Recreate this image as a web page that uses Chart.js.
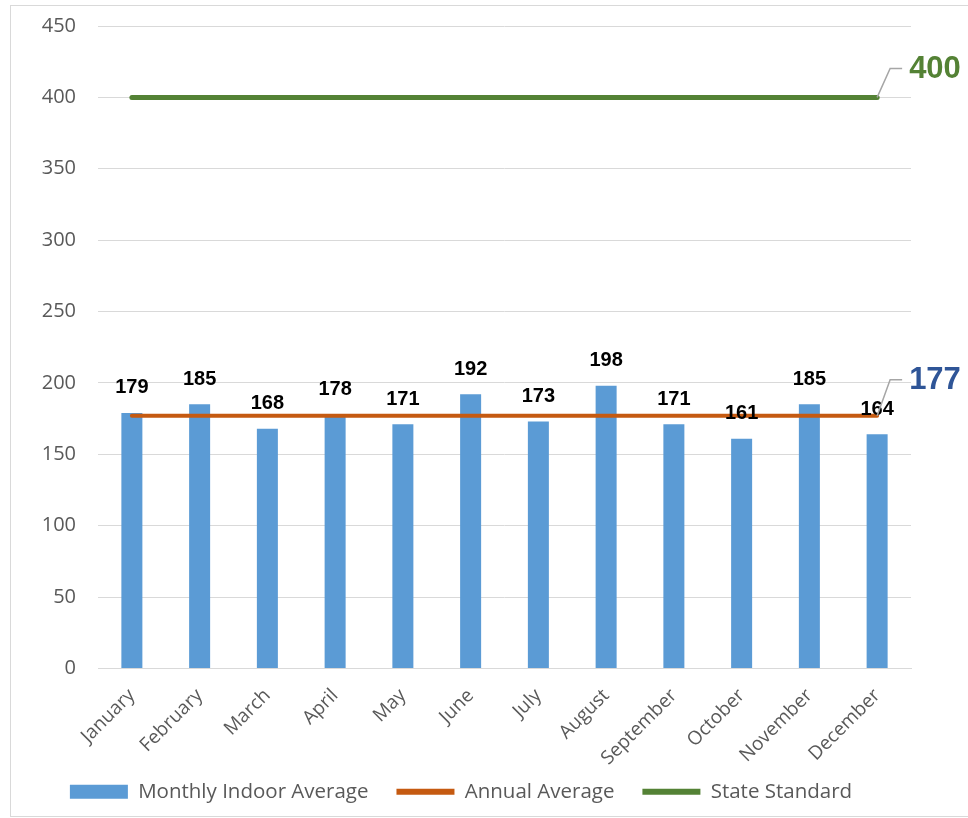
<!DOCTYPE html>
<html>
<head>
<meta charset="utf-8">
<script src="https://cdn.jsdelivr.net/npm/chart.js@4.4.1/dist/chart.umd.min.js"></script>
<style>
  body { margin: 0; background: #fff; }
  #frame { position: absolute; left: 10px; top: 5px; width: 957px; height: 810px; border: 1px solid #D9D9D9; border-right: none; }
  #wrap { position: absolute; left: 0; top: 0; width: 957px; height: 810px; }
</style>
</head>
<body>
<div id="frame"><div id="wrap"><canvas id="chart"></canvas></div></div>
<script>
// chart values
const months = ['January', 'February', 'March', 'April', 'May', 'June', 'July', 'August', 'September', 'October', 'November', 'December'];
const monthlyIndoor = [179, 185, 168, 178, 171, 192, 173, 198, 171, 161, 185, 164];
const annualAverage = [177, 177, 177, 177, 177, 177, 177, 177, 177, 177, 177, 177];
const stateStandard = [400, 400, 400, 400, 400, 400, 400, 400, 400, 400, 400, 400];

const BLUE = '#5B9BD5';
const ORANGE = '#C55A11';
const GREEN = '#548235';
const TEXT = '#595959';

// value labels above bars + end labels for the two lines
const labelPlugin = {
  id: 'valueLabels',
  afterLayout(chart) {
    // let the rotated month names run past the axis box instead of being clipped
    chart.scales.x.bottom = chart.height;
  },
  afterDatasetsDraw(chart) {
    const ctx = chart.ctx;
    const bars = chart.getDatasetMeta(0).data;
    ctx.save();
    ctx.font = 'bold 20px "Liberation Sans", Arial, sans-serif';
    ctx.fillStyle = '#000';
    ctx.textAlign = 'center';
    ctx.textBaseline = 'middle';
    bars.forEach((bar, i) => {
      ctx.fillText(monthlyIndoor[i], bar.x, bar.y - 25);
    });

    const ends = [
      { meta: chart.getDatasetMeta(2), value: stateStandard[stateStandard.length - 1], color: GREEN, rise: 29 },
      { meta: chart.getDatasetMeta(1), value: annualAverage[annualAverage.length - 1], color: '#2F5597', rise: 36 }
    ];
    ends.forEach(e => {
      const pt = e.meta.data[e.meta.data.length - 1];
      const kx = pt.x + 13, ky = pt.y - e.rise;
      ctx.strokeStyle = '#A6A6A6';
      ctx.lineWidth = 1.5;
      ctx.beginPath();
      ctx.moveTo(pt.x, pt.y);
      ctx.lineTo(kx, ky);
      ctx.lineTo(kx + 12, ky);
      ctx.stroke();
      ctx.font = 'bold 31px "Liberation Sans", Arial, sans-serif';
      ctx.fillStyle = e.color;
      ctx.textAlign = 'left';
      ctx.fillText(e.value, kx + 19, ky + 1);
    });
    ctx.restore();
  }
};

new Chart(document.getElementById('chart'), {
  type: 'bar',
  data: {
    labels: months,
    datasets: [
      {
        label: 'Monthly Indoor Average',
        data: monthlyIndoor,
        backgroundColor: BLUE,
        barPercentage: 0.31,
        categoryPercentage: 1,
        order: 3
      },
      {
        type: 'line',
        label: 'Annual Average',
        data: annualAverage,
        borderColor: ORANGE,
        backgroundColor: ORANGE,
        borderWidth: 4,
        pointRadius: 0,
        borderCapStyle: 'round',
        order: 2
      },
      {
        type: 'line',
        label: 'State Standard',
        data: stateStandard,
        borderColor: GREEN,
        backgroundColor: GREEN,
        borderWidth: 5,
        pointRadius: 0,
        borderCapStyle: 'round',
        order: 1
      }
    ]
  },
  options: {
    responsive: true,
    maintainAspectRatio: false,
    animation: false,
    layout: { padding: { top: 20, right: 57, bottom: 4, left: 0 } },
    scales: {
      y: {
        min: 0,
        max: 450,
        ticks: {
          stepSize: 50,
          padding: 22,
          color: TEXT,
          font: { family: '"Open Sans", sans-serif', size: 20 }
        },
        grid: { color: '#D9D9D9', lineWidth: 1, drawTicks: false },
        border: { display: false },
        // fixed axis width, no extra room above the top tick
        afterFit: s => { s.width = 87; s.paddingTop = 0; }
      },
      x: {
        ticks: {
          maxRotation: 45,
          minRotation: 45,
          padding: 8,
          color: TEXT,
          font: { family: '"Open Sans", sans-serif', size: 19 }
        },
        grid: { display: false },
        border: { color: '#D9D9D9' },
        afterFit: s => { s.height = 85; }
      }
    },
    plugins: {
      tooltip: { enabled: false },
      legend: {
        position: 'bottom',
        labels: {
          usePointStyle: true,
          pointStyleWidth: 58,
          boxHeight: 14,
          padding: 28,
          color: TEXT,
          font: { family: '"Open Sans", sans-serif', size: 20.5 },
          generateLabels: chart => chart.data.datasets.map((ds, i) => ({
            text: ds.label,
            fillStyle: ds.backgroundColor,
            strokeStyle: ds.type === 'line' ? ds.borderColor : ds.backgroundColor,
            lineWidth: ds.type === 'line' ? 6 : 0,
            pointStyle: ds.type === 'line' ? 'line' : 'rect',
            fontColor: TEXT,
            datasetIndex: i,
            hidden: false
          }))
        }
      }
    }
  },
  plugins: [labelPlugin]
});
</script>
</body>
</html>
